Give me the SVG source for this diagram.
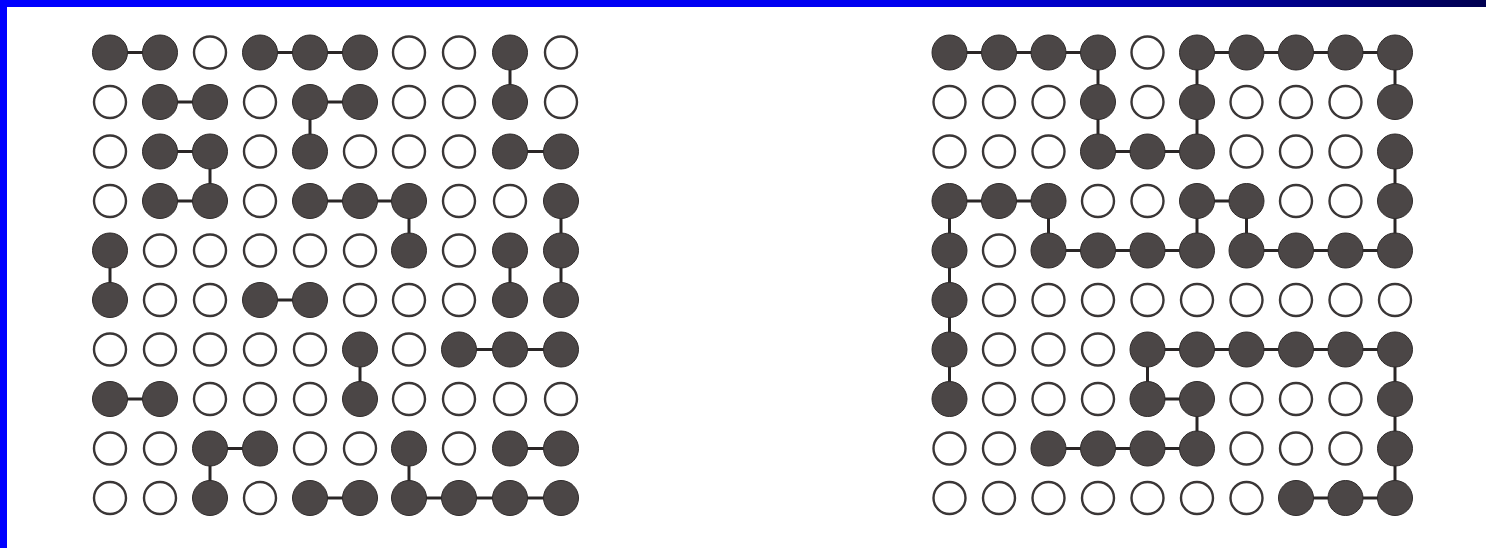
<svg xmlns="http://www.w3.org/2000/svg" xmlns:xlink="http://www.w3.org/1999/xlink" width="1486" height="548" viewBox="0 0 1486 548">
<defs>
<linearGradient id="topbar" x1="0" y1="0" x2="1" y2="0">
<stop offset="0" stop-color="#0000ff"/>
<stop offset="0.6" stop-color="#0000f0"/>
<stop offset="0.8" stop-color="#0000a8"/>
<stop offset="1" stop-color="#000050"/>
</linearGradient>
<style>
.f{fill:#4b4646;stroke:#2f2b2b;stroke-width:1}
.o{fill:#ffffff;stroke:#3a3636;stroke-width:2.4}
.c line{stroke:#2a2626;stroke-width:3;stroke-linecap:butt}
</style>
</defs>
<rect x="0" y="0" width="1486" height="548" fill="#ffffff"/>
<rect x="0" y="0" width="1486" height="7" fill="url(#topbar)"/>
<rect x="0" y="0" width="7" height="548" fill="#0000ff"/>
<g id="connectors-left" class="c">
<line x1="110" y1="52.5" x2="160" y2="52.5"/>
<line x1="260" y1="52.5" x2="360" y2="52.5"/>
<line x1="510" y1="52.5" x2="510" y2="102"/>
<line x1="160" y1="102" x2="210" y2="102"/>
<line x1="310" y1="102" x2="360" y2="102"/>
<line x1="310" y1="102" x2="310" y2="151.5"/>
<line x1="160" y1="151.5" x2="210" y2="151.5"/>
<line x1="210" y1="151.5" x2="210" y2="201"/>
<line x1="510" y1="151.5" x2="561" y2="151.5"/>
<line x1="160" y1="201" x2="210" y2="201"/>
<line x1="310" y1="201" x2="409" y2="201"/>
<line x1="409" y1="201" x2="409" y2="250.5"/>
<line x1="561" y1="201" x2="561" y2="300"/>
<line x1="110" y1="250.5" x2="110" y2="300"/>
<line x1="510" y1="250.5" x2="510" y2="300"/>
<line x1="260" y1="300" x2="310" y2="300"/>
<line x1="360" y1="349.5" x2="360" y2="399"/>
<line x1="459" y1="349.5" x2="561" y2="349.5"/>
<line x1="110" y1="399" x2="160" y2="399"/>
<line x1="210" y1="448.5" x2="260" y2="448.5"/>
<line x1="210" y1="448.5" x2="210" y2="498"/>
<line x1="409" y1="448.5" x2="409" y2="498"/>
<line x1="510" y1="448.5" x2="561" y2="448.5"/>
<line x1="310" y1="498" x2="360" y2="498"/>
<line x1="409" y1="498" x2="561" y2="498"/>
</g>
<g id="connectors-right" class="c">
<line x1="949.5" y1="52.5" x2="1098" y2="52.5"/>
<line x1="1098" y1="52.5" x2="1098" y2="151.5"/>
<line x1="1098" y1="151.5" x2="1197" y2="151.5"/>
<line x1="1197" y1="52.5" x2="1197" y2="151.5"/>
<line x1="1197" y1="52.5" x2="1395" y2="52.5"/>
<line x1="1395" y1="52.5" x2="1395" y2="102"/>
<line x1="1395" y1="151.5" x2="1395" y2="250.5"/>
<line x1="949.5" y1="201" x2="1048.5" y2="201"/>
<line x1="949.5" y1="201" x2="949.5" y2="399"/>
<line x1="1048.5" y1="201" x2="1048.5" y2="250.5"/>
<line x1="1048.5" y1="250.5" x2="1197" y2="250.5"/>
<line x1="1197" y1="201" x2="1197" y2="250.5"/>
<line x1="1197" y1="201" x2="1246.5" y2="201"/>
<line x1="1246.5" y1="201" x2="1246.5" y2="250.5"/>
<line x1="1246.5" y1="250.5" x2="1395" y2="250.5"/>
<line x1="1147.5" y1="349.5" x2="1395" y2="349.5"/>
<line x1="1147.5" y1="349.5" x2="1147.5" y2="399"/>
<line x1="1147.5" y1="399" x2="1197" y2="399"/>
<line x1="1197" y1="399" x2="1197" y2="448.5"/>
<line x1="1048.5" y1="448.5" x2="1197" y2="448.5"/>
<line x1="1395" y1="349.5" x2="1395" y2="498"/>
<line x1="1296" y1="498" x2="1395" y2="498"/>
</g>
<g id="left-grid">
<g id="L0-0"><circle class="f" cx="110" cy="52.5" r="17.5"/></g>
<g id="L0-1"><circle class="f" cx="160" cy="52.5" r="17.5"/></g>
<g id="L0-2"><circle class="o" cx="210" cy="52.5" r="16"/></g>
<g id="L0-3"><circle class="f" cx="260" cy="52.5" r="17.5"/></g>
<g id="L0-4"><circle class="f" cx="310" cy="52.5" r="17.5"/></g>
<g id="L0-5"><circle class="f" cx="360" cy="52.5" r="17.5"/></g>
<g id="L0-6"><circle class="o" cx="409" cy="52.5" r="16"/></g>
<g id="L0-7"><circle class="o" cx="459" cy="52.5" r="16"/></g>
<g id="L0-8"><circle class="f" cx="510" cy="52.5" r="17.5"/></g>
<g id="L0-9"><circle class="o" cx="561" cy="52.5" r="16"/></g>
<g id="L1-0"><circle class="o" cx="110" cy="102" r="16"/></g>
<g id="L1-1"><circle class="f" cx="160" cy="102" r="17.5"/></g>
<g id="L1-2"><circle class="f" cx="210" cy="102" r="17.5"/></g>
<g id="L1-3"><circle class="o" cx="260" cy="102" r="16"/></g>
<g id="L1-4"><circle class="f" cx="310" cy="102" r="17.5"/></g>
<g id="L1-5"><circle class="f" cx="360" cy="102" r="17.5"/></g>
<g id="L1-6"><circle class="o" cx="409" cy="102" r="16"/></g>
<g id="L1-7"><circle class="o" cx="459" cy="102" r="16"/></g>
<g id="L1-8"><circle class="f" cx="510" cy="102" r="17.5"/></g>
<g id="L1-9"><circle class="o" cx="561" cy="102" r="16"/></g>
<g id="L2-0"><circle class="o" cx="110" cy="151.5" r="16"/></g>
<g id="L2-1"><circle class="f" cx="160" cy="151.5" r="17.5"/></g>
<g id="L2-2"><circle class="f" cx="210" cy="151.5" r="17.5"/></g>
<g id="L2-3"><circle class="o" cx="260" cy="151.5" r="16"/></g>
<g id="L2-4"><circle class="f" cx="310" cy="151.5" r="17.5"/></g>
<g id="L2-5"><circle class="o" cx="360" cy="151.5" r="16"/></g>
<g id="L2-6"><circle class="o" cx="409" cy="151.5" r="16"/></g>
<g id="L2-7"><circle class="o" cx="459" cy="151.5" r="16"/></g>
<g id="L2-8"><circle class="f" cx="510" cy="151.5" r="17.5"/></g>
<g id="L2-9"><circle class="f" cx="561" cy="151.5" r="17.5"/></g>
<g id="L3-0"><circle class="o" cx="110" cy="201" r="16"/></g>
<g id="L3-1"><circle class="f" cx="160" cy="201" r="17.5"/></g>
<g id="L3-2"><circle class="f" cx="210" cy="201" r="17.5"/></g>
<g id="L3-3"><circle class="o" cx="260" cy="201" r="16"/></g>
<g id="L3-4"><circle class="f" cx="310" cy="201" r="17.5"/></g>
<g id="L3-5"><circle class="f" cx="360" cy="201" r="17.5"/></g>
<g id="L3-6"><circle class="f" cx="409" cy="201" r="17.5"/></g>
<g id="L3-7"><circle class="o" cx="459" cy="201" r="16"/></g>
<g id="L3-8"><circle class="o" cx="510" cy="201" r="16"/></g>
<g id="L3-9"><circle class="f" cx="561" cy="201" r="17.5"/></g>
<g id="L4-0"><circle class="f" cx="110" cy="250.5" r="17.5"/></g>
<g id="L4-1"><circle class="o" cx="160" cy="250.5" r="16"/></g>
<g id="L4-2"><circle class="o" cx="210" cy="250.5" r="16"/></g>
<g id="L4-3"><circle class="o" cx="260" cy="250.5" r="16"/></g>
<g id="L4-4"><circle class="o" cx="310" cy="250.5" r="16"/></g>
<g id="L4-5"><circle class="o" cx="360" cy="250.5" r="16"/></g>
<g id="L4-6"><circle class="f" cx="409" cy="250.5" r="17.5"/></g>
<g id="L4-7"><circle class="o" cx="459" cy="250.5" r="16"/></g>
<g id="L4-8"><circle class="f" cx="510" cy="250.5" r="17.5"/></g>
<g id="L4-9"><circle class="f" cx="561" cy="250.5" r="17.5"/></g>
<g id="L5-0"><circle class="f" cx="110" cy="300" r="17.5"/></g>
<g id="L5-1"><circle class="o" cx="160" cy="300" r="16"/></g>
<g id="L5-2"><circle class="o" cx="210" cy="300" r="16"/></g>
<g id="L5-3"><circle class="f" cx="260" cy="300" r="17.5"/></g>
<g id="L5-4"><circle class="f" cx="310" cy="300" r="17.5"/></g>
<g id="L5-5"><circle class="o" cx="360" cy="300" r="16"/></g>
<g id="L5-6"><circle class="o" cx="409" cy="300" r="16"/></g>
<g id="L5-7"><circle class="o" cx="459" cy="300" r="16"/></g>
<g id="L5-8"><circle class="f" cx="510" cy="300" r="17.5"/></g>
<g id="L5-9"><circle class="f" cx="561" cy="300" r="17.5"/></g>
<g id="L6-0"><circle class="o" cx="110" cy="349.5" r="16"/></g>
<g id="L6-1"><circle class="o" cx="160" cy="349.5" r="16"/></g>
<g id="L6-2"><circle class="o" cx="210" cy="349.5" r="16"/></g>
<g id="L6-3"><circle class="o" cx="260" cy="349.5" r="16"/></g>
<g id="L6-4"><circle class="o" cx="310" cy="349.5" r="16"/></g>
<g id="L6-5"><circle class="f" cx="360" cy="349.5" r="17.5"/></g>
<g id="L6-6"><circle class="o" cx="409" cy="349.5" r="16"/></g>
<g id="L6-7"><circle class="f" cx="459" cy="349.5" r="17.5"/></g>
<g id="L6-8"><circle class="f" cx="510" cy="349.5" r="17.5"/></g>
<g id="L6-9"><circle class="f" cx="561" cy="349.5" r="17.5"/></g>
<g id="L7-0"><circle class="f" cx="110" cy="399" r="17.5"/></g>
<g id="L7-1"><circle class="f" cx="160" cy="399" r="17.5"/></g>
<g id="L7-2"><circle class="o" cx="210" cy="399" r="16"/></g>
<g id="L7-3"><circle class="o" cx="260" cy="399" r="16"/></g>
<g id="L7-4"><circle class="o" cx="310" cy="399" r="16"/></g>
<g id="L7-5"><circle class="f" cx="360" cy="399" r="17.5"/></g>
<g id="L7-6"><circle class="o" cx="409" cy="399" r="16"/></g>
<g id="L7-7"><circle class="o" cx="459" cy="399" r="16"/></g>
<g id="L7-8"><circle class="o" cx="510" cy="399" r="16"/></g>
<g id="L7-9"><circle class="o" cx="561" cy="399" r="16"/></g>
<g id="L8-0"><circle class="o" cx="110" cy="448.5" r="16"/></g>
<g id="L8-1"><circle class="o" cx="160" cy="448.5" r="16"/></g>
<g id="L8-2"><circle class="f" cx="210" cy="448.5" r="17.5"/></g>
<g id="L8-3"><circle class="f" cx="260" cy="448.5" r="17.5"/></g>
<g id="L8-4"><circle class="o" cx="310" cy="448.5" r="16"/></g>
<g id="L8-5"><circle class="o" cx="360" cy="448.5" r="16"/></g>
<g id="L8-6"><circle class="f" cx="409" cy="448.5" r="17.5"/></g>
<g id="L8-7"><circle class="o" cx="459" cy="448.5" r="16"/></g>
<g id="L8-8"><circle class="f" cx="510" cy="448.5" r="17.5"/></g>
<g id="L8-9"><circle class="f" cx="561" cy="448.5" r="17.5"/></g>
<g id="L9-0"><circle class="o" cx="110" cy="498" r="16"/></g>
<g id="L9-1"><circle class="o" cx="160" cy="498" r="16"/></g>
<g id="L9-2"><circle class="f" cx="210" cy="498" r="17.5"/></g>
<g id="L9-3"><circle class="o" cx="260" cy="498" r="16"/></g>
<g id="L9-4"><circle class="f" cx="310" cy="498" r="17.5"/></g>
<g id="L9-5"><circle class="f" cx="360" cy="498" r="17.5"/></g>
<g id="L9-6"><circle class="f" cx="409" cy="498" r="17.5"/></g>
<g id="L9-7"><circle class="f" cx="459" cy="498" r="17.5"/></g>
<g id="L9-8"><circle class="f" cx="510" cy="498" r="17.5"/></g>
<g id="L9-9"><circle class="f" cx="561" cy="498" r="17.5"/></g>
</g>
<g id="right-grid">
<g id="R0-0"><circle class="f" cx="949.5" cy="52.5" r="17.5"/></g>
<g id="R0-1"><circle class="f" cx="999" cy="52.5" r="17.5"/></g>
<g id="R0-2"><circle class="f" cx="1048.5" cy="52.5" r="17.5"/></g>
<g id="R0-3"><circle class="f" cx="1098" cy="52.5" r="17.5"/></g>
<g id="R0-4"><circle class="o" cx="1147.5" cy="52.5" r="16"/></g>
<g id="R0-5"><circle class="f" cx="1197" cy="52.5" r="17.5"/></g>
<g id="R0-6"><circle class="f" cx="1246.5" cy="52.5" r="17.5"/></g>
<g id="R0-7"><circle class="f" cx="1296" cy="52.5" r="17.5"/></g>
<g id="R0-8"><circle class="f" cx="1345.5" cy="52.5" r="17.5"/></g>
<g id="R0-9"><circle class="f" cx="1395" cy="52.5" r="17.5"/></g>
<g id="R1-0"><circle class="o" cx="949.5" cy="102" r="16"/></g>
<g id="R1-1"><circle class="o" cx="999" cy="102" r="16"/></g>
<g id="R1-2"><circle class="o" cx="1048.5" cy="102" r="16"/></g>
<g id="R1-3"><circle class="f" cx="1098" cy="102" r="17.5"/></g>
<g id="R1-4"><circle class="o" cx="1147.5" cy="102" r="16"/></g>
<g id="R1-5"><circle class="f" cx="1197" cy="102" r="17.5"/></g>
<g id="R1-6"><circle class="o" cx="1246.5" cy="102" r="16"/></g>
<g id="R1-7"><circle class="o" cx="1296" cy="102" r="16"/></g>
<g id="R1-8"><circle class="o" cx="1345.5" cy="102" r="16"/></g>
<g id="R1-9"><circle class="f" cx="1395" cy="102" r="17.5"/></g>
<g id="R2-0"><circle class="o" cx="949.5" cy="151.5" r="16"/></g>
<g id="R2-1"><circle class="o" cx="999" cy="151.5" r="16"/></g>
<g id="R2-2"><circle class="o" cx="1048.5" cy="151.5" r="16"/></g>
<g id="R2-3"><circle class="f" cx="1098" cy="151.5" r="17.5"/></g>
<g id="R2-4"><circle class="f" cx="1147.5" cy="151.5" r="17.5"/></g>
<g id="R2-5"><circle class="f" cx="1197" cy="151.5" r="17.5"/></g>
<g id="R2-6"><circle class="o" cx="1246.5" cy="151.5" r="16"/></g>
<g id="R2-7"><circle class="o" cx="1296" cy="151.5" r="16"/></g>
<g id="R2-8"><circle class="o" cx="1345.5" cy="151.5" r="16"/></g>
<g id="R2-9"><circle class="f" cx="1395" cy="151.5" r="17.5"/></g>
<g id="R3-0"><circle class="f" cx="949.5" cy="201" r="17.5"/></g>
<g id="R3-1"><circle class="f" cx="999" cy="201" r="17.5"/></g>
<g id="R3-2"><circle class="f" cx="1048.5" cy="201" r="17.5"/></g>
<g id="R3-3"><circle class="o" cx="1098" cy="201" r="16"/></g>
<g id="R3-4"><circle class="o" cx="1147.5" cy="201" r="16"/></g>
<g id="R3-5"><circle class="f" cx="1197" cy="201" r="17.5"/></g>
<g id="R3-6"><circle class="f" cx="1246.5" cy="201" r="17.5"/></g>
<g id="R3-7"><circle class="o" cx="1296" cy="201" r="16"/></g>
<g id="R3-8"><circle class="o" cx="1345.5" cy="201" r="16"/></g>
<g id="R3-9"><circle class="f" cx="1395" cy="201" r="17.5"/></g>
<g id="R4-0"><circle class="f" cx="949.5" cy="250.5" r="17.5"/></g>
<g id="R4-1"><circle class="o" cx="999" cy="250.5" r="16"/></g>
<g id="R4-2"><circle class="f" cx="1048.5" cy="250.5" r="17.5"/></g>
<g id="R4-3"><circle class="f" cx="1098" cy="250.5" r="17.5"/></g>
<g id="R4-4"><circle class="f" cx="1147.5" cy="250.5" r="17.5"/></g>
<g id="R4-5"><circle class="f" cx="1197" cy="250.5" r="17.5"/></g>
<g id="R4-6"><circle class="f" cx="1246.5" cy="250.5" r="17.5"/></g>
<g id="R4-7"><circle class="f" cx="1296" cy="250.5" r="17.5"/></g>
<g id="R4-8"><circle class="f" cx="1345.5" cy="250.5" r="17.5"/></g>
<g id="R4-9"><circle class="f" cx="1395" cy="250.5" r="17.5"/></g>
<g id="R5-0"><circle class="f" cx="949.5" cy="300" r="17.5"/></g>
<g id="R5-1"><circle class="o" cx="999" cy="300" r="16"/></g>
<g id="R5-2"><circle class="o" cx="1048.5" cy="300" r="16"/></g>
<g id="R5-3"><circle class="o" cx="1098" cy="300" r="16"/></g>
<g id="R5-4"><circle class="o" cx="1147.5" cy="300" r="16"/></g>
<g id="R5-5"><circle class="o" cx="1197" cy="300" r="16"/></g>
<g id="R5-6"><circle class="o" cx="1246.5" cy="300" r="16"/></g>
<g id="R5-7"><circle class="o" cx="1296" cy="300" r="16"/></g>
<g id="R5-8"><circle class="o" cx="1345.5" cy="300" r="16"/></g>
<g id="R5-9"><circle class="o" cx="1395" cy="300" r="16"/></g>
<g id="R6-0"><circle class="f" cx="949.5" cy="349.5" r="17.5"/></g>
<g id="R6-1"><circle class="o" cx="999" cy="349.5" r="16"/></g>
<g id="R6-2"><circle class="o" cx="1048.5" cy="349.5" r="16"/></g>
<g id="R6-3"><circle class="o" cx="1098" cy="349.5" r="16"/></g>
<g id="R6-4"><circle class="f" cx="1147.5" cy="349.5" r="17.5"/></g>
<g id="R6-5"><circle class="f" cx="1197" cy="349.5" r="17.5"/></g>
<g id="R6-6"><circle class="f" cx="1246.5" cy="349.5" r="17.5"/></g>
<g id="R6-7"><circle class="f" cx="1296" cy="349.5" r="17.5"/></g>
<g id="R6-8"><circle class="f" cx="1345.5" cy="349.5" r="17.5"/></g>
<g id="R6-9"><circle class="f" cx="1395" cy="349.5" r="17.5"/></g>
<g id="R7-0"><circle class="f" cx="949.5" cy="399" r="17.5"/></g>
<g id="R7-1"><circle class="o" cx="999" cy="399" r="16"/></g>
<g id="R7-2"><circle class="o" cx="1048.5" cy="399" r="16"/></g>
<g id="R7-3"><circle class="o" cx="1098" cy="399" r="16"/></g>
<g id="R7-4"><circle class="f" cx="1147.5" cy="399" r="17.5"/></g>
<g id="R7-5"><circle class="f" cx="1197" cy="399" r="17.5"/></g>
<g id="R7-6"><circle class="o" cx="1246.5" cy="399" r="16"/></g>
<g id="R7-7"><circle class="o" cx="1296" cy="399" r="16"/></g>
<g id="R7-8"><circle class="o" cx="1345.5" cy="399" r="16"/></g>
<g id="R7-9"><circle class="f" cx="1395" cy="399" r="17.5"/></g>
<g id="R8-0"><circle class="o" cx="949.5" cy="448.5" r="16"/></g>
<g id="R8-1"><circle class="o" cx="999" cy="448.5" r="16"/></g>
<g id="R8-2"><circle class="f" cx="1048.5" cy="448.5" r="17.5"/></g>
<g id="R8-3"><circle class="f" cx="1098" cy="448.5" r="17.5"/></g>
<g id="R8-4"><circle class="f" cx="1147.5" cy="448.5" r="17.5"/></g>
<g id="R8-5"><circle class="f" cx="1197" cy="448.5" r="17.5"/></g>
<g id="R8-6"><circle class="o" cx="1246.5" cy="448.5" r="16"/></g>
<g id="R8-7"><circle class="o" cx="1296" cy="448.5" r="16"/></g>
<g id="R8-8"><circle class="o" cx="1345.5" cy="448.5" r="16"/></g>
<g id="R8-9"><circle class="f" cx="1395" cy="448.5" r="17.5"/></g>
<g id="R9-0"><circle class="o" cx="949.5" cy="498" r="16"/></g>
<g id="R9-1"><circle class="o" cx="999" cy="498" r="16"/></g>
<g id="R9-2"><circle class="o" cx="1048.5" cy="498" r="16"/></g>
<g id="R9-3"><circle class="o" cx="1098" cy="498" r="16"/></g>
<g id="R9-4"><circle class="o" cx="1147.5" cy="498" r="16"/></g>
<g id="R9-5"><circle class="o" cx="1197" cy="498" r="16"/></g>
<g id="R9-6"><circle class="o" cx="1246.5" cy="498" r="16"/></g>
<g id="R9-7"><circle class="f" cx="1296" cy="498" r="17.5"/></g>
<g id="R9-8"><circle class="f" cx="1345.5" cy="498" r="17.5"/></g>
<g id="R9-9"><circle class="f" cx="1395" cy="498" r="17.5"/></g>
</g>
</svg>
